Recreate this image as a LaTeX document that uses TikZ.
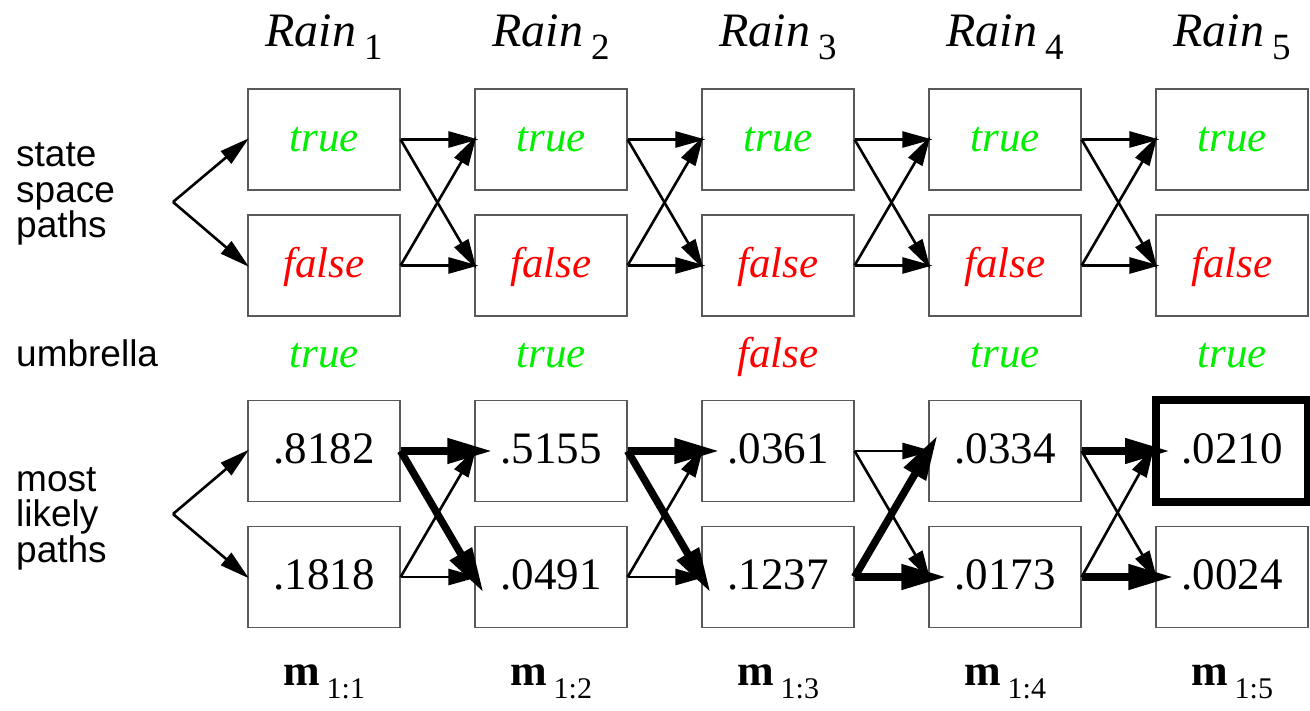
\documentclass[tikz,border=0pt]{standalone}
\usepackage{xcolor}
\usepackage{fontspec}
\setmainfont{Liberation Serif}
\setsansfont{Liberation Sans}
\usepackage{tikz}
\usetikzlibrary{arrows.meta}
\definecolor{tvgreen}{RGB}{0,238,0}
\definecolor{tvred}{RGB}{255,0,0}
\tikzset{
  % a state box of the trellis
  sbox/.style   = {draw=black!65, line width=1.2pt, rectangle, inner sep=0pt,
                   minimum width=152pt, minimum height=101pt,
                   text height=30pt, text depth=5pt},
  % a truth value in a box
  tv/.style     = {font=\fontsize{43}{43}\selectfont\itshape},
  % a message value in a box
  num/.style    = {font=\fontsize{45}{45}\selectfont},
  % the observed umbrella value
  obs/.style    = {anchor=base, inner sep=0pt, font=\fontsize{43}{43}\selectfont\itshape},
  % the label at the left of a row
  rowlab/.style = {anchor=base west, inner sep=0pt, align=left,
                   font=\sffamily\fontsize{37}{35.5}\selectfont},
  % a column header or footer
  hd/.style     = {anchor=base, inner sep=0pt},
  % a plain transition
  lk/.style     = {-{Triangle[length=30pt,width=16pt]}, line width=2.6pt,
                   shorten >=-4pt},
  % a transition on a most likely path
  lkb/.style    = {-{Triangle[length=45pt,width=24pt]}, line width=7.5pt,
                   shorten >=-18pt},
  % the end of the best path
  best/.style   = {draw=black, line width=8pt},
}
\newcommand{\hdr}[1]{{\fontsize{48}{48}\selectfont\itshape Rain}\hspace{8pt}%
  \raisebox{-13pt}{\fontsize{37}{37}\selectfont #1}}
\newcommand{\mlab}[1]{{\fontsize{44}{44}\selectfont\bfseries m}\hspace{7pt}%
  \raisebox{-13pt}{\fontsize{30}{30}\selectfont #1}}
\newcommand{\xlinks}[8]{%
  \draw[#5] (#1.east) -- (#3.west);
  \draw[#6] (#1.east) -- (#4.west);
  \draw[#7] (#2.east) -- (#3.west);
  \draw[#8] (#2.east) -- (#4.west);
}
\begin{document}
\begin{tikzpicture}[x=1pt, y=-1pt]
  \useasboundingbox (0,0) rectangle (1310,711);
  % headers
  \node[hd] (h1) at (324,47)  {\hdr{1}};
  \node[hd] (h2) at (551,47)  {\hdr{2}};
  \node[hd] (h3) at (778,47)  {\hdr{3}};
  \node[hd] (h4) at (1005,47) {\hdr{4}};
  \node[hd] (h5) at (1232,47) {\hdr{5}};
  % state space
  \node[sbox, tv, text=tvgreen] (t1) at (324,139.5)  {true};
  \node[sbox, tv, text=tvgreen] (t2) at (551,139.5)  {true};
  \node[sbox, tv, text=tvgreen] (t3) at (778,139.5)  {true};
  \node[sbox, tv, text=tvgreen] (t4) at (1005,139.5) {true};
  \node[sbox, tv, text=tvgreen] (t5) at (1232,139.5) {true};
  \node[sbox, tv, text=tvred]   (f1) at (324,265.5)  {false};
  \node[sbox, tv, text=tvred]   (f2) at (551,265.5)  {false};
  \node[sbox, tv, text=tvred]   (f3) at (778,265.5)  {false};
  \node[sbox, tv, text=tvred]   (f4) at (1005,265.5) {false};
  \node[sbox, tv, text=tvred]   (f5) at (1232,265.5) {false};
  % evidence
  \node[obs, text=tvgreen] (u1) at (324,368)  {true};
  \node[obs, text=tvgreen] (u2) at (551,368)  {true};
  \node[obs, text=tvred]   (u3) at (778,368)  {false};
  \node[obs, text=tvgreen] (u4) at (1005,368) {true};
  \node[obs, text=tvgreen] (u5) at (1232,368) {true};
  % messages
  \node[sbox, num] (a1) at (324,451)  {.8182};
  \node[sbox, num] (a2) at (551,451)  {.5155};
  \node[sbox, num] (a3) at (778,451)  {.0361};
  \node[sbox, num] (a4) at (1005,451) {.0334};
  \node[sbox, num, best] (a5) at (1232,451) {.0210};
  \node[sbox, num] (b1) at (324,577)  {.1818};
  \node[sbox, num] (b2) at (551,577)  {.0491};
  \node[sbox, num] (b3) at (778,577)  {.1237};
  \node[sbox, num] (b4) at (1005,577) {.0173};
  \node[sbox, num] (b5) at (1232,577) {.0024};
  % footers
  \node[hd] (m1) at (324,685)  {\mlab{1:1}};
  \node[hd] (m2) at (551,685)  {\mlab{1:2}};
  \node[hd] (m3) at (778,685)  {\mlab{1:3}};
  \node[hd] (m4) at (1005,685) {\mlab{1:4}};
  \node[hd] (m5) at (1232,685) {\mlab{1:5}};
  % row labels (base is the last line)
  \node[rowlab] (lss) at (16,238) {state\\space\\paths};
  \node[rowlab] (lum) at (16,367) {umbrella};
  \node[rowlab] (lml) at (16,562) {most\\likely\\paths};
  % forks
  \coordinate (fk1) at (173,202);
  \coordinate (fk2) at (173,514);
  \draw[lk, shorten >=-2pt] (fk1) -- (t1.west);
  \draw[lk, shorten >=-2pt] (fk1) -- (f1.west);
  \draw[lk, shorten >=-2pt] (fk2) -- (a1.west);
  \draw[lk, shorten >=-2pt] (fk2) -- (b1.west);
  % transitions
  \xlinks{t1}{f1}{t2}{f2}{lk}{lk}{lk}{lk}
  \xlinks{t2}{f2}{t3}{f3}{lk}{lk}{lk}{lk}
  \xlinks{t3}{f3}{t4}{f4}{lk}{lk}{lk}{lk}
  \xlinks{t4}{f4}{t5}{f5}{lk}{lk}{lk}{lk}
  \xlinks{a1}{b1}{a2}{b2}{lkb}{lkb}{lk}{lk}
  \xlinks{a2}{b2}{a3}{b3}{lkb}{lkb}{lk}{lk}
  \xlinks{a3}{b3}{a4}{b4}{lk}{lk}{lkb}{lkb}
  \xlinks{a4}{b4}{a5}{b5}{lkb}{lk}{lk}{lkb}
\end{tikzpicture}
\end{document}
